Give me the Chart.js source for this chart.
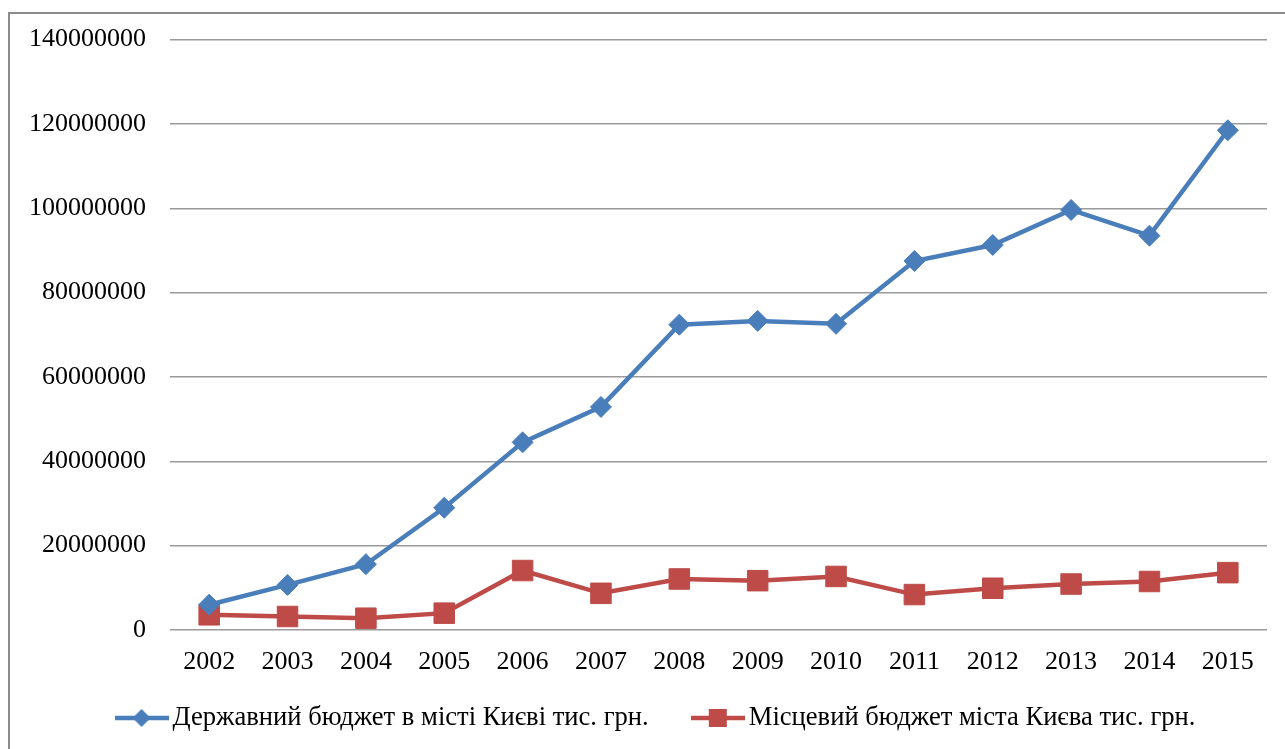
<!DOCTYPE html>
<html>
<head>
<meta charset="utf-8">
<script src="https://cdn.jsdelivr.net/npm/chart.js@4/dist/chart.umd.min.js"></script>
<style>
  html, body { margin: 0; padding: 0; background: #fff; overflow: hidden; }
  #wrap { position: relative; width: 1285px; height: 749px; }
  #frame {
    position: absolute; left: 8px; top: 12px; width: 1320px; height: 800px;
    border: 2px solid #8c8c8c; pointer-events: none;
  }
</style>
</head>
<body>
<div id="wrap">
  <canvas id="budgetChart" width="1285" height="749"></canvas>
  <div id="frame"></div>
</div>
<script>
// Budget of Kyiv, thousand UAH
const years = ['2002', '2003', '2004', '2005', '2006', '2007', '2008', '2009', '2010', '2011', '2012', '2013', '2014', '2015'];
const stateBudget = [6000000, 10700000, 15600000, 29000000, 44500000, 52900000, 72400000, 73300000, 72600000, 87500000, 91300000, 99600000, 93500000, 118500000];
const localBudget = [3600000, 3200000, 2800000, 4000000, 14100000, 8700000, 12100000, 11700000, 12700000, 8400000, 9900000, 10900000, 11500000, 13600000];
const seriesNames = ['Державний бюджет в місті Києві тис. грн.', 'Місцевий бюджет міста Києва тис. грн.'];

const BLUE = '#4a7ebb';
const RED = '#be4b48';
const FONT = '"Liberation Serif", "Times New Roman", serif';

// legend sample: a short line with the series marker in the middle
function legendSample(color, shape) {
    const c = document.createElement('canvas');
    c.width = 54;
    c.height = 22;
    const g = c.getContext('2d');
    g.strokeStyle = color;
    g.lineWidth = 4.5;
    g.beginPath();
    g.moveTo(0, 11);
    g.lineTo(54, 11);
    g.stroke();
    g.fillStyle = color;
    g.beginPath();
    if (shape === 'diamond') {
        g.moveTo(27, 2); g.lineTo(36, 11); g.lineTo(27, 20); g.lineTo(18, 11);
    } else {
        g.rect(18, 2, 18, 18);
    }
    g.closePath();
    g.fill();
    return c;
}
const samples = [legendSample(BLUE, 'diamond'), legendSample(RED, 'square')];

// bottom legend drawn by hand so it can sit off-centre like the original
const bottomLegend = {
    id: 'bottomLegend',
    afterDraw(chart) {
        const c = chart.ctx;
        c.save();
        c.font = '26.6px ' + FONT;
        c.fillStyle = '#000';
        c.textBaseline = 'middle';
        const y = 718;
        const gapText = 4, gapItem = 42;
        const widths = chart.data.datasets.map(ds => c.measureText(ds.label).width);
        let total = 0;
        widths.forEach((w, i) => { total += 54 + gapText + w + (i ? gapItem : 0); });
        let x = 655 - total / 2;
        chart.data.datasets.forEach((ds, i) => {
            c.drawImage(samples[i], x, y - 11);
            x += 54 + gapText;
            c.fillText(ds.label, x, y);
            x += widths[i] + gapItem;
        });
        c.restore();
    }
};

Chart.defaults.font.family = FONT;
Chart.defaults.color = '#000';

const ctx = document.getElementById('budgetChart').getContext('2d');
const budgetChart = new Chart(ctx, {
    type: 'line',
    data: {
        labels: years,
        datasets: [{
            label: seriesNames[0],
            data: stateBudget,
            borderColor: BLUE,
            backgroundColor: BLUE,
            borderWidth: 4.5,
            pointStyle: 'rectRot',
            pointRadius: 10.5,
            pointBorderWidth: 1,
            tension: 0
        }, {
            label: seriesNames[1],
            data: localBudget,
            borderColor: RED,
            backgroundColor: RED,
            borderWidth: 4.5,
            pointStyle: 'rect',
            pointRadius: 14.5,
            pointBorderWidth: 1,
            tension: 0
        }]
    },
    options: {
        responsive: false,
        animation: false,
        layout: {
            padding: { top: 39.4, right: 18, left: 0, bottom: 53.8 }
        },
        plugins: {
            tooltip: { enabled: false },
            legend: { display: false }
        },
        scales: {
            x: {
                offset: true,
                grid: { display: false, drawTicks: false },
                border: { display: false },
                ticks: { font: { size: 26 }, padding: 17, maxRotation: 0 }
            },
            y: {
                min: 0,
                max: 140000000,
                grid: { color: '#9a9a9a', lineWidth: 1.5, drawTicks: false },
                border: { display: false },
                ticks: {
                    stepSize: 20000000,
                    font: { size: 26 },
                    padding: 24,
                    callback: (v) => String(v)
                },
                afterFit: (scale) => { scale.width = 170; }
            }
        }
    },
    plugins: [bottomLegend]
});
</script>
</body>
</html>
